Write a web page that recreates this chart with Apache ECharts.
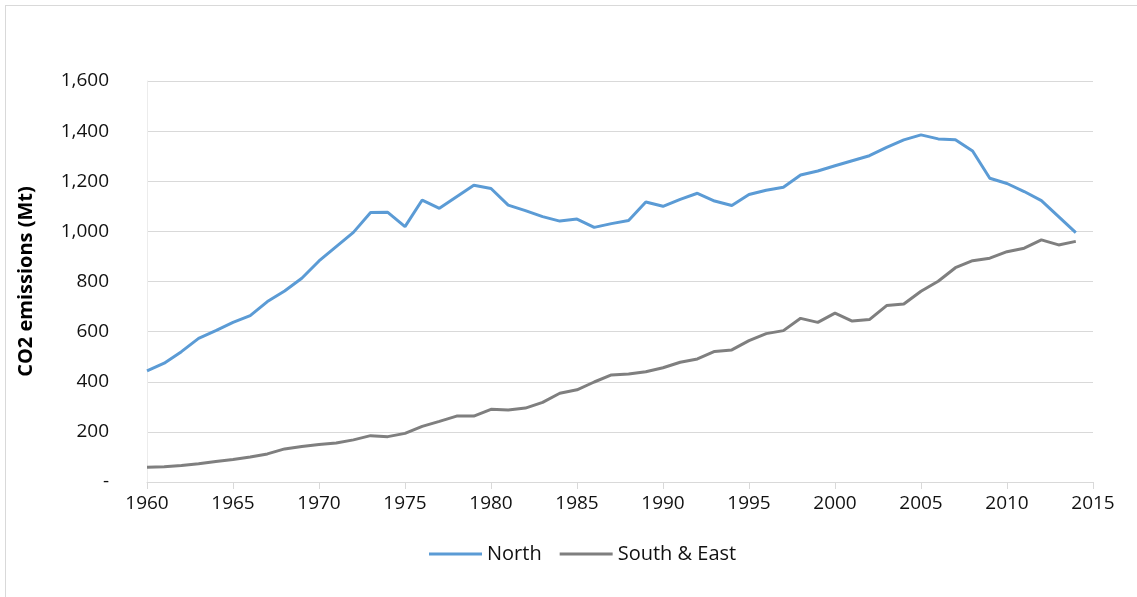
<!DOCTYPE html>
<html>
<head>
<meta charset="utf-8">
<script src="https://cdn.jsdelivr.net/npm/echarts@6/dist/echarts.min.js"></script>
<style>
html,body{margin:0;padding:0;background:#fff;}
#frame{position:absolute;left:5px;top:5px;width:1140px;height:600px;border-left:1px solid #d9d9d9;border-top:1px solid #d9d9d9;box-sizing:border-box;}
#chart{position:absolute;left:0;top:0;width:1137px;height:597px;}
</style>
</head>
<body>
<div id="frame"></div>
<div id="chart"></div>
<script>
const years = [1960,1961,1962,1963,1964,1965,1966,1967,1968,1969,1970,1971,1972,1973,1974,1975,1976,1977,1978,1979,1980,1981,1982,1983,1984,1985,1986,1987,1988,1989,1990,1991,1992,1993,1994,1995,1996,1997,1998,1999,2000,2001,2002,2003,2004,2005,2006,2007,2008,2009,2010,2011,2012,2013,2014];
const north = [443,474,520,573,604,637,664,720,762,813,882,939,996,1075,1076,1019,1125,1092,1138,1184,1171,1105,1083,1059,1041,1049,1016,1031,1043,1117,1100,1128,1152,1121,1103,1147,1164,1176,1225,1241,1262,1282,1302,1335,1365,1385,1369,1366,1321,1212,1191,1159,1123,1059,995];
const southEast = [59,61,66,73,82,90,100,112,132,142,150,156,168,185,181,194,222,242,263,263,290,287,295,318,354,368,399,427,431,440,456,478,491,521,527,564,592,604,653,637,674,642,648,704,710,761,801,855,883,893,919,933,966,946,960];
const seriesNames = ['North','South & East'];
const yTitle = 'CO2 emissions (Mt)';

const font = '"Open Sans", sans-serif';
const chart = echarts.init(document.getElementById('chart'));
chart.setOption({
  animation:false,
  grid:{left:147,right:44,top:81,bottom:115},
  xAxis:{type:'value',min:1960,max:2015,interval:5,
    axisLine:{show:true,lineStyle:{color:'#d9d9d9',width:1}},
    axisTick:{show:true,inside:false,length:7,lineStyle:{color:'#d9d9d9'}},
    splitLine:{show:false},
    axisLabel:{color:'#111',fontSize:19,fontFamily:font,margin:12,formatter:v=>String(v)}
  },
  yAxis:{type:'value',min:0,max:1600,interval:200,
    name:yTitle,nameLocation:'middle',nameGap:111,nameRotate:90,
    nameTextStyle:{color:'#000',fontSize:20,fontWeight:'bold',fontFamily:font},
    axisLine:{show:true,lineStyle:{color:'#ececec'}},
    axisTick:{show:false},
    splitLine:{lineStyle:{color:'#d9d9d9',width:1}},
    axisLabel:{color:'#111',fontSize:19,fontFamily:font,margin:38,
      formatter:v=> v===0?'-':v.toLocaleString('en-US')}
  },
  legend:{bottom:28,left:424,itemWidth:53,itemHeight:3,itemGap:18,icon:'rect',
    textStyle:{color:'#111',fontSize:20,fontFamily:font},
    data:seriesNames},
  series:[
    {name:seriesNames[0],type:'line',showSymbol:false,symbol:'none',
     lineStyle:{color:'#5b9bd5',width:3},itemStyle:{color:'#5b9bd5'},
     data:years.map((y,i)=>[y,north[i]])},
    {name:seriesNames[1],type:'line',showSymbol:false,symbol:'none',
     lineStyle:{color:'#7f7f7f',width:3},itemStyle:{color:'#7f7f7f'},
     data:years.map((y,i)=>[y,southEast[i]])}
  ]
});
</script>
</body>
</html>
